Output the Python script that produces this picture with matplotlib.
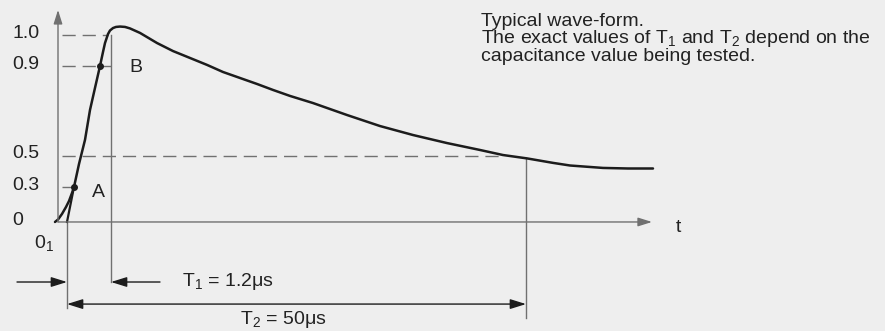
import numpy as np
import matplotlib
matplotlib.use("Agg")
import matplotlib.pyplot as plt

plt.rcParams["font.family"] = ["Liberation Sans", "DejaVu Sans"]
plt.rcParams["mathtext.fontset"] = "custom"
plt.rcParams["mathtext.rm"] = "Liberation Sans"
plt.rcParams["mathtext.default"] = "regular"
plt.rcParams["lines.scale_dashes"] = False

# --- Daten (schematische Einheiten: x = Zeit-Achse, y = gezeichnete Hoehe, 1.0 = Scheitel) ---
curve_t = [-3, 0, 4, 8, 11, 14, 16, 21, 27, 32, 37, 42, 45, 47, 50, 52, 55, 58, 62, 67,
           72, 82, 99, 115, 132, 149, 165, 182, 199, 215, 232, 255, 289, 322, 355, 389,
           422, 445, 469, 495, 512, 545, 570, 595]
curve_v = [0.0, 0.013, 0.043, 0.080, 0.112, 0.155, 0.187, 0.310, 0.439, 0.599, 0.717,
           0.834, 0.909, 0.957, 1.005, 1.024, 1.037, 1.043, 1.045, 1.043, 1.035, 1.011,
           0.957, 0.914, 0.877, 0.840, 0.802, 0.770, 0.738, 0.706, 0.674, 0.636, 0.572,
           0.513, 0.465, 0.422, 0.385, 0.358, 0.340, 0.316, 0.302, 0.289, 0.286, 0.286]

level_labels = ["0", "0.3", "0.5", "0.9", "1.0"]
level_y = [0.0, 0.187, 0.355, 0.834, 1.0]        # nicht massstaeblich gezeichnet
level_end = [None, 16, 447, 53, 50]              # Ende der gestrichelten Linie

pt_a = (16, 0.187)
pt_b = (42, 0.834)
t_o1 = 9        # virtueller Ursprung O1
t_t1 = 53       # Stirnzeit T1
t_t2 = 468      # Rueckenhalbwertszeit T2

thin = "#707070"
dark = "#1c1c1c"
txt = "#222222"
fs = 14

fig = plt.figure(figsize=(8.85, 3.31), dpi=100)
fig.patch.set_facecolor("#eeeeee")
ax = fig.add_axes([0, 0, 1, 1])
ax.set_facecolor("#eeeeee")
ax.set_xlim(-58, 827)
ax.set_ylim(-0.583, 1.187)
ax.axis("off")

# Achsen mit Pfeilen
axis_kw = dict(arrowstyle="-|>,head_length=0.7,head_width=0.22", mutation_scale=12,
               color=thin, lw=1.0, shrinkA=0, shrinkB=0)
ax.annotate("", xy=(0, 1.134), xytext=(0, 0), arrowprops=axis_kw)
ax.annotate("", xy=(594, 0), xytext=(0, 0), arrowprops=axis_kw)
ax.text(620, -0.03, "t", fontsize=fs, color=txt, ha="center", va="center")

# Gestrichelte Niveaus und Beschriftungen
for lab, yy, xe in zip(level_labels, level_y, level_end):
    ax.text(-46, yy + 0.01, lab, fontsize=fs, color=txt, ha="left", va="center")
    if xe is not None:
        ax.plot([4, xe], [yy, yy], color=thin, lw=1.0, dashes=(9.5, 5))

# Hilfslinien fuer O1, T1, T2
ax.plot([t_o1, t_o1], [0, -0.46], color=thin, lw=1.0)
ax.plot([t_t1, t_t1], [1.0, -0.321], color=thin, lw=1.0)
ax.plot([t_t2, t_t2], [0.34, -0.513], color=thin, lw=1.0)

# Stirngerade durch A und B zum virtuellen Ursprung
ax.plot([t_o1, pt_a[0]], [0, pt_a[1]], color=dark, lw=1.6)

# Kurvenform
ax.plot(curve_t, curve_v, color=dark, lw=1.8, solid_capstyle="round", solid_joinstyle="round")
ax.plot(*pt_a, "o", color=dark, ms=4)
ax.plot(*pt_b, "o", color=dark, ms=4)
ax.text(40, 0.16, "A", fontsize=fs, color=txt, ha="center", va="center")
ax.text(78, 0.824, "B", fontsize=fs, color=txt, ha="center", va="center")
ax.text(-14.5, -0.112, "0$_1$", fontsize=fs, color=txt, ha="center", va="center")

# Zeitpfeile
arrow_kw = dict(arrowstyle="-|>,head_length=0.8,head_width=0.25", mutation_scale=12,
                color=dark, lw=1.0, shrinkA=0, shrinkB=0)
ax.annotate("", xy=(t_o1, -0.321), xytext=(-41, -0.321), arrowprops=arrow_kw)
ax.annotate("", xy=(t_t1, -0.321), xytext=(102, -0.321), arrowprops=arrow_kw)
ax.annotate("", xy=(t_t2, -0.439), xytext=(t_o1, -0.439),
            arrowprops=dict(arrow_kw, arrowstyle="<|-|>,head_length=0.8,head_width=0.25"))
ax.text(124, -0.316, "T$_1$ = 1.2\u03bcs", fontsize=fs, color=txt, ha="left", va="center")
ax.text(182, -0.524, "T$_2$ = 50\u03bcs", fontsize=fs, color=txt, ha="left", va="center")

# Hinweistext
note = ["Typical wave-form.",
        "The exact values of T$_1$ and T$_2$ depend on the",
        "capacitance value being tested."]
ax.text(423, 1.115, "\n".join(note), fontsize=fs, color=txt, ha="left", va="top",
        linespacing=0.86)

fig.savefig("out.png", dpi=100, facecolor=fig.get_facecolor())
